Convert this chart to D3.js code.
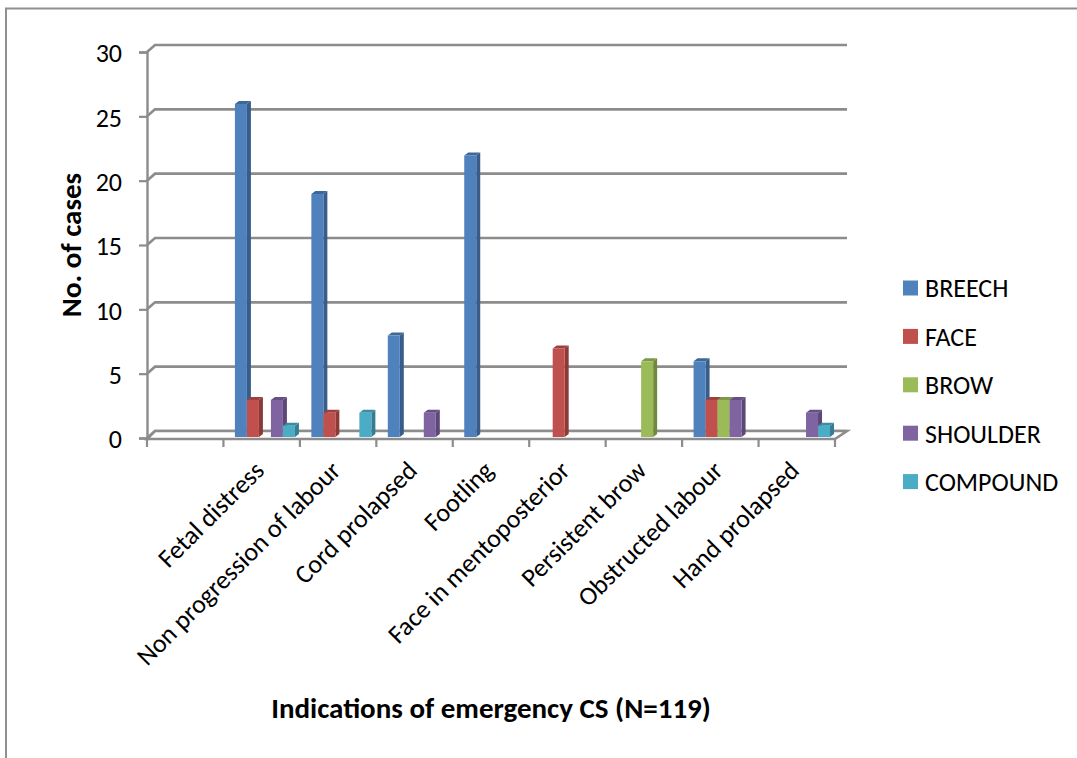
<!DOCTYPE html>
<html>
<head>
<meta charset="utf-8">
<script src="https://cdn.jsdelivr.net/npm/d3@7"></script>
<style>
  html, body { margin: 0; padding: 0; background: #fff; }
  svg { display: block; font-family: Carlito, Calibri, Lato, sans-serif; }
</style>
</head>
<body>
<svg id="chart" width="1077" height="758"></svg>
<script>
// Indications for emergency caesarean section by presentation (N = 119)
const categories = ["", "Fetal distress", "Non progression of labour", "Cord prolapsed",
  "Footling", "Face in mentoposterior", "Persistent brow", "Obstructed labour", "Hand prolapsed"];
const seriesNames = ["BREECH", "FACE", "BROW", "SHOULDER", "COMPOUND"];
const breech   = [0, 26, 19, 8, 22, 0, 0, 6, 0];
const face     = [0, 3, 2, 0, 0, 7, 0, 3, 0];
const brow     = [0, 0, 0, 0, 0, 0, 6, 3, 0];
const shoulder = [0, 3, 0, 2, 0, 0, 0, 3, 2];
const compound = [0, 1, 2, 0, 0, 0, 0, 0, 1];
const yTicks = [0, 5, 10, 15, 20, 25, 30];

const seriesValues = [breech, face, brow, shoulder, compound];
const frontColors = ["#4F81BD", "#C0504D", "#9BBB59", "#8064A2", "#4BACC6"];
const sideColors  = ["#385D8A", "#8C3A38", "#71893F", "#5C4776", "#357D91"];
const topColors   = ["#3E679A", "#9C413E", "#7C9848", "#664F84", "#3C8CA2"];

const svg = d3.select("#chart");

// outer frame
svg.append("path").attr("d", "M6,758 L6,8.5 L1077,8.5")
  .attr("fill", "none").attr("stroke", "#8f8f8f").attr("stroke-width", 2);

const x0 = 147, x1 = 835;
const x = d3.scaleBand().domain(categories).range([x0, x1]).paddingInner(0).paddingOuter(0);
const y = d3.scaleLinear().domain([0, 30]).range([438, 52]);
const sub = d3.scaleBand().domain(seriesNames)
  .range([x.bandwidth() * 0.15, x.bandwidth() * 0.15 + x.bandwidth() * 0.785]);

// depth of the back wall
const dY = -7;
const dX = px => 8 + (px - x0) / (x1 - x0) * 4;

// back-wall gridlines and left-wall connectors
const grid = svg.append("g");
yTicks.forEach(t => {
  const yf = y(t), yb = y(t) + dY;
  grid.append("path")
    .attr("d", `M${x0},${yf} L${x0 + dX(x0)},${yb} L${x1 + dX(x1)},${yb}`)
    .attr("fill", "none").attr("stroke", "#8c8c8c").attr("stroke-width", 2.6);
});

// floor outline
svg.append("path")
  .attr("d", `M${x0},${y(0) + 1} L${x1},${y(0) + 1} L${x1 + dX(x1)},${y(0) + dY} L${x0 + dX(x0)},${y(0) + dY} Z`)
  .attr("fill", "#fff").attr("stroke", "#8c8c8c").attr("stroke-width", 2.6);

// vertical axis
const yAxis = d3.axisLeft(y).tickValues(yTicks).tickSize(8).tickPadding(17);
const ya = svg.append("g").attr("transform", `translate(${x0},0)`).call(yAxis);
ya.select(".domain").attr("stroke", "#8c8c8c").attr("stroke-width", 2.4);
ya.selectAll(".tick line").attr("stroke", "#8c8c8c").attr("stroke-width", 2.2);
ya.selectAll(".tick text").attr("font-size", 26).attr("fill", "#000")
  .attr("font-family", "Carlito, Calibri, Lato, sans-serif").attr("dy", "0.38em");

// category boundary ticks
const bounds = categories.map(c => x(c)).concat([x1]);
svg.append("g").selectAll("line").data(bounds).join("line")
  .attr("x1", d => d).attr("x2", d => d)
  .attr("y1", y(0) + 1).attr("y2", y(0) + 9)
  .attr("stroke", "#8c8c8c").attr("stroke-width", 2.2);

// bars
const barW = sub.bandwidth();
const sx = 4, sy = -3;
const bars = svg.append("g");
categories.forEach((c, ci) => {
  seriesNames.forEach((s, si) => {
    const v = seriesValues[si][ci];
    if (!v) return;
    const bx = x(c) + sub(s);
    const top = y(v) + 0.5, base = y(0) - 1;
    const g = bars.append("g");
    g.append("polygon")
      .attr("points", `${bx + barW},${top} ${bx + barW + sx},${top + sy} ${bx + barW + sx},${base + sy} ${bx + barW},${base}`)
      .attr("fill", sideColors[si]);
    g.append("polygon")
      .attr("points", `${bx},${top} ${bx + sx},${top + sy} ${bx + barW + sx},${top + sy} ${bx + barW},${top}`)
      .attr("fill", topColors[si]);
    g.append("rect")
      .attr("x", bx).attr("y", top).attr("width", barW).attr("height", base - top)
      .attr("fill", frontColors[si]);
  });
});

// category labels
svg.append("g").selectAll("text").data(categories.filter(c => c)).join("text")
  .attr("transform", d => `translate(${x(d) + x.bandwidth() / 2 + 4},${y(0) + 34}) rotate(-45)`)
  .attr("text-anchor", "end")
  .attr("font-size", 26)
  .attr("fill", "#000")
  .text(d => d);

// axis titles
svg.append("text")
  .attr("transform", "translate(81,245) rotate(-90)")
  .attr("text-anchor", "middle")
  .attr("font-size", 29).attr("font-weight", "bold")
  .text("No. of cases");

svg.append("text")
  .attr("x", 491).attr("y", 718)
  .attr("text-anchor", "middle")
  .attr("font-size", 29).attr("font-weight", "bold")
  .text("Indications of emergency CS (N=119)");

// legend
const legend = svg.append("g").attr("transform", "translate(903,288)");
seriesNames.forEach((s, i) => {
  const g = legend.append("g").attr("transform", `translate(0,${i * 48.4})`);
  g.append("rect").attr("x", 0).attr("y", -7.5).attr("width", 15).attr("height", 15)
    .attr("fill", frontColors[i]);
  g.append("text").attr("x", 22).attr("y", 0).attr("dy", "0.36em")
    .attr("font-size", 26).attr("fill", "#000").text(s);
});
</script>
</body>
</html>
